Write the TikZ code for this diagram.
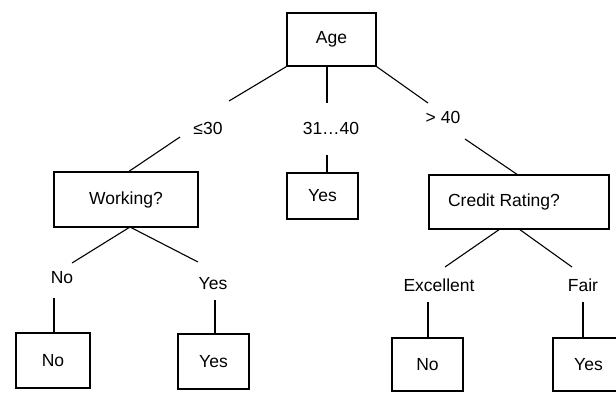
\documentclass[tikz,border=0pt]{standalone}
\usepackage{fontspec}
\setmainfont{Liberation Sans}
\begin{document}
\begin{tikzpicture}[x=1pt,y=-1pt,
  treebox/.style={draw, line width=1.1pt, inner sep=0pt, font=\fontsize{17.5}{20}\selectfont},
  branch/.style={inner sep=0pt, font=\fontsize{17.5}{20}\selectfont},
  edge/.style={line width=1.1pt}]
\useasboundingbox (0,0) rectangle (616,392);
\clip (0,0) rectangle (616,392);

% decision and leaf boxes
\node[treebox, minimum width=89pt, minimum height=53pt] (age) at (331.5,39.5) {Age};
\node[treebox, minimum width=144pt, minimum height=55pt] (work) at (126,199.5) {Working?};
\node[treebox, minimum width=71pt, minimum height=46pt] (midyes) at (322.5,196) {Yes};
\node[treebox, minimum width=180pt, minimum height=54pt] (credit) at (519,202) {Credit Rating?\hspace*{30pt}};
\node[treebox, minimum width=74pt, minimum height=55pt] (leafA) at (53,360.5) {No};
\node[treebox, minimum width=71pt, minimum height=55pt] (leafB) at (213.5,361.5) {Yes};
\node[treebox, minimum width=71pt, minimum height=53pt] (leafC) at (427.5,364.5) {No};
\node[treebox, minimum width=71pt, minimum height=53pt] (leafD) at (588.5,364.5) {Yes};

% branch labels
\node[branch] (le30) at (208,128) {≤30};
\node[branch] (mid) at (331,128) {31…40};
\node[branch] (gt40) at (443,117) {> 40};
\node[branch] (wno) at (62,278) {No};
\node[branch] (wyes) at (213,284) {Yes};
\node[branch] (exc) at (439,285) {Excellent};
\node[branch] (fair) at (583,285) {Fair};

% connector ends next to the labels
\coordinate (le30top) at (229,101);
\coordinate (le30bot) at (180,137);
\coordinate (agemid) at (327,67);
\coordinate (midtop) at (327,103);
\coordinate (midbot) at (327,155);
\coordinate (midyestop) at (327,173);
\coordinate (gt40top) at (428,103);
\coordinate (gt40bot) at (465,139);
\coordinate (worktop) at (128,172);
\coordinate (workbot) at (130,227);
\coordinate (credtop) at (518,175);
\coordinate (credbotA) at (500,229);
\coordinate (credbotB) at (519,229);
\coordinate (wnotop) at (72,263);
\coordinate (wnobot) at (54,298);
\coordinate (wyestop) at (198,262);
\coordinate (wyesbot) at (215,300);
\coordinate (exctop) at (445,267);
\coordinate (excbot) at (428,302);
\coordinate (fairtop) at (572,267);
\coordinate (fairbot) at (583,302);
\coordinate (leafAtop) at (54,333);
\coordinate (leafBtop) at (215,334);
\coordinate (leafCtop) at (428,338);
\coordinate (leafDtop) at (583,338);

% connectors
\draw[edge] (age.south west) -- (le30top);
\draw[edge] (agemid) -- (midtop);
\draw[edge] (age.south east) -- (gt40top);
\draw[edge] (le30bot) -- (worktop);
\draw[edge] (midbot) -- (midyestop);
\draw[edge] (gt40bot) -- (credtop);
\draw[edge] (workbot) -- (wnotop);
\draw[edge] (workbot) -- (wyestop);
\draw[edge] (credbotA) -- (exctop);
\draw[edge] (credbotB) -- (fairtop);
\draw[edge] (wnobot) -- (leafAtop);
\draw[edge] (wyesbot) -- (leafBtop);
\draw[edge] (excbot) -- (leafCtop);
\draw[edge] (fairbot) -- (leafDtop);
\end{tikzpicture}
\end{document}
